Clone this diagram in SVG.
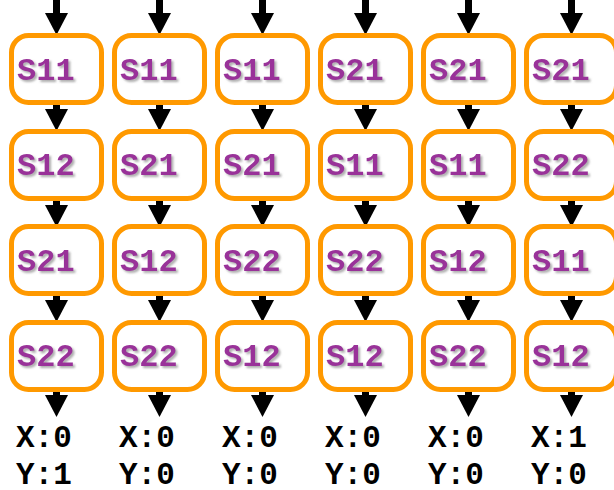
<svg xmlns="http://www.w3.org/2000/svg" width="614" height="490" viewBox="0 0 614 490">
<defs>
<marker id="ah" markerUnits="userSpaceOnUse" markerWidth="23" markerHeight="24" refX="0" refY="11.5" orient="auto" viewBox="0 0 23 24">
<path d="M0,0 L22,11.5 L0,23 Z" fill="#000"/>
</marker>
<filter id="sh" x="-10%" y="-20%" width="130%" height="150%">
<feDropShadow dx="2" dy="2" stdDeviation="1" flood-color="#777" flood-opacity="0.6"/>
</filter>
</defs>
<style>
.box{fill:#fff;stroke:#ff9900;stroke-width:5}
.lbl{font-family:"Liberation Mono","Courier New",monospace;font-weight:bold;font-size:32px;fill:#993399;filter:url(#sh)}
.out{font-family:"Liberation Mono","Courier New",monospace;font-weight:bold;font-size:31px;fill:#000}
.con line{stroke:#000;stroke-width:7;marker-end:url(#ah)}
</style>
<rect width="614" height="490" fill="#fff"/>
<g class="con" id="connectors">
<line x1="56.5" y1="0" x2="56.5" y2="13"/><line x1="56.5" y1="103" x2="56.5" y2="109"/><line x1="56.5" y1="199" x2="56.5" y2="205"/><line x1="56.5" y1="294" x2="56.5" y2="300"/><line x1="56.5" y1="390" x2="56.5" y2="395"/>
<line x1="159.5" y1="0" x2="159.5" y2="13"/><line x1="159.5" y1="103" x2="159.5" y2="109"/><line x1="159.5" y1="199" x2="159.5" y2="205"/><line x1="159.5" y1="294" x2="159.5" y2="300"/><line x1="159.5" y1="390" x2="159.5" y2="395"/>
<line x1="262.5" y1="0" x2="262.5" y2="13"/><line x1="262.5" y1="103" x2="262.5" y2="109"/><line x1="262.5" y1="199" x2="262.5" y2="205"/><line x1="262.5" y1="294" x2="262.5" y2="300"/><line x1="262.5" y1="390" x2="262.5" y2="395"/>
<line x1="365.5" y1="0" x2="365.5" y2="13"/><line x1="365.5" y1="103" x2="365.5" y2="109"/><line x1="365.5" y1="199" x2="365.5" y2="205"/><line x1="365.5" y1="294" x2="365.5" y2="300"/><line x1="365.5" y1="390" x2="365.5" y2="395"/>
<line x1="468.5" y1="0" x2="468.5" y2="13"/><line x1="468.5" y1="103" x2="468.5" y2="109"/><line x1="468.5" y1="199" x2="468.5" y2="205"/><line x1="468.5" y1="294" x2="468.5" y2="300"/><line x1="468.5" y1="390" x2="468.5" y2="395"/>
<line x1="571.5" y1="0" x2="571.5" y2="13"/><line x1="571.5" y1="103" x2="571.5" y2="109"/><line x1="571.5" y1="199" x2="571.5" y2="205"/><line x1="571.5" y1="294" x2="571.5" y2="300"/><line x1="571.5" y1="390" x2="571.5" y2="395"/>
</g>
<g id="c1">
<g id="c1r1"><rect class="box" x="11.5" y="35.5" width="90" height="67" rx="17"/><text class="lbl" x="17" y="80">S11</text></g>
<g id="c1r2"><rect class="box" x="11.5" y="131.5" width="90" height="67" rx="17"/><text class="lbl" x="17" y="175">S12</text></g>
<g id="c1r3"><rect class="box" x="11.5" y="226.5" width="90" height="67" rx="17"/><text class="lbl" x="17" y="271">S21</text></g>
<g id="c1r4"><rect class="box" x="11.5" y="322.5" width="90" height="67" rx="17"/><text class="lbl" x="17" y="366">S22</text></g>
<g id="c1out"><text class="out" x="16" y="447">X:0</text><text class="out" x="16" y="484">Y:1</text></g>
</g>
<g id="c2">
<g id="c2r1"><rect class="box" x="114.5" y="35.5" width="90" height="67" rx="17"/><text class="lbl" x="120" y="80">S11</text></g>
<g id="c2r2"><rect class="box" x="114.5" y="131.5" width="90" height="67" rx="17"/><text class="lbl" x="120" y="175">S21</text></g>
<g id="c2r3"><rect class="box" x="114.5" y="226.5" width="90" height="67" rx="17"/><text class="lbl" x="120" y="271">S12</text></g>
<g id="c2r4"><rect class="box" x="114.5" y="322.5" width="90" height="67" rx="17"/><text class="lbl" x="120" y="366">S22</text></g>
<g id="c2out"><text class="out" x="119" y="447">X:0</text><text class="out" x="119" y="484">Y:0</text></g>
</g>
<g id="c3">
<g id="c3r1"><rect class="box" x="217.5" y="35.5" width="90" height="67" rx="17"/><text class="lbl" x="223" y="80">S11</text></g>
<g id="c3r2"><rect class="box" x="217.5" y="131.5" width="90" height="67" rx="17"/><text class="lbl" x="223" y="175">S21</text></g>
<g id="c3r3"><rect class="box" x="217.5" y="226.5" width="90" height="67" rx="17"/><text class="lbl" x="223" y="271">S22</text></g>
<g id="c3r4"><rect class="box" x="217.5" y="322.5" width="90" height="67" rx="17"/><text class="lbl" x="223" y="366">S12</text></g>
<g id="c3out"><text class="out" x="222" y="447">X:0</text><text class="out" x="222" y="484">Y:0</text></g>
</g>
<g id="c4">
<g id="c4r1"><rect class="box" x="320.5" y="35.5" width="90" height="67" rx="17"/><text class="lbl" x="326" y="80">S21</text></g>
<g id="c4r2"><rect class="box" x="320.5" y="131.5" width="90" height="67" rx="17"/><text class="lbl" x="326" y="175">S11</text></g>
<g id="c4r3"><rect class="box" x="320.5" y="226.5" width="90" height="67" rx="17"/><text class="lbl" x="326" y="271">S22</text></g>
<g id="c4r4"><rect class="box" x="320.5" y="322.5" width="90" height="67" rx="17"/><text class="lbl" x="326" y="366">S12</text></g>
<g id="c4out"><text class="out" x="325" y="447">X:0</text><text class="out" x="325" y="484">Y:0</text></g>
</g>
<g id="c5">
<g id="c5r1"><rect class="box" x="423.5" y="35.5" width="90" height="67" rx="17"/><text class="lbl" x="429" y="80">S21</text></g>
<g id="c5r2"><rect class="box" x="423.5" y="131.5" width="90" height="67" rx="17"/><text class="lbl" x="429" y="175">S11</text></g>
<g id="c5r3"><rect class="box" x="423.5" y="226.5" width="90" height="67" rx="17"/><text class="lbl" x="429" y="271">S12</text></g>
<g id="c5r4"><rect class="box" x="423.5" y="322.5" width="90" height="67" rx="17"/><text class="lbl" x="429" y="366">S22</text></g>
<g id="c5out"><text class="out" x="428" y="447">X:0</text><text class="out" x="428" y="484">Y:0</text></g>
</g>
<g id="c6">
<g id="c6r1"><rect class="box" x="526.5" y="35.5" width="90" height="67" rx="17"/><text class="lbl" x="532" y="80">S21</text></g>
<g id="c6r2"><rect class="box" x="526.5" y="131.5" width="90" height="67" rx="17"/><text class="lbl" x="532" y="175">S22</text></g>
<g id="c6r3"><rect class="box" x="526.5" y="226.5" width="90" height="67" rx="17"/><text class="lbl" x="532" y="271">S11</text></g>
<g id="c6r4"><rect class="box" x="526.5" y="322.5" width="90" height="67" rx="17"/><text class="lbl" x="532" y="366">S12</text></g>
<g id="c6out"><text class="out" x="531" y="447">X:1</text><text class="out" x="531" y="484">Y:0</text></g>
</g>
</svg>
